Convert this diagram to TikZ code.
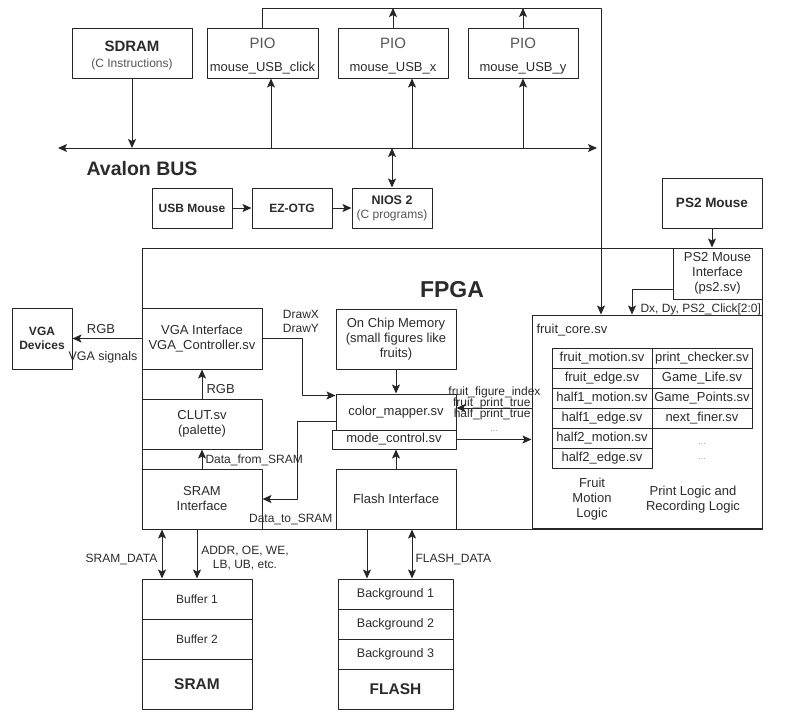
\documentclass[tikz,border=0pt]{standalone}
\usepackage{fontspec}
\setmainfont{Liberation Sans}
\usetikzlibrary{arrows.meta}
\definecolor{txt}{HTML}{2B2B2B}
\definecolor{soft}{HTML}{555555}
\definecolor{dots}{HTML}{9A9A9A}
\begin{document}
\begin{tikzpicture}[x=1pt, y=-1pt, line join=round, line cap=round, line width=1pt, color=black!85,
    >={Stealth[length=9pt,width=8pt,inset=2pt]},
    every node/.style={text=txt, inner sep=1pt, font=\fontsize{13}{15}\selectfont},
    box/.style 2 args={draw, align=center, minimum width=#1pt, minimum height=#2pt},
    lbl/.style={align=center, font=\fontsize{12}{14}\selectfont},
    hd/.style={font=\bfseries\fontsize{12}{14}\selectfont},
    more/.style={text=dots, font=\fontsize{9}{10}\selectfont}]
\useasboundingbox (0,0) rectangle (790,716);

\node[box={620}{281}] (fpga) at (452,388.5) {};
\node[font=\bfseries\fontsize{23}{26}\selectfont] (fpgatitle) at (452,290) {FPGA};

\node[box={120}{50}] (sdram) at (132,53) {};
\node[align=center] (sdramtxt) at (132,55) {{\bfseries\fontsize{15}{17}\selectfont SDRAM}\\[1pt]{\fontsize{12}{14}\selectfont\color{soft}(C Instructions)}};
\node[box={111}{50}] (pioclk) at (262.5,53) {};
\node[box={110}{50}] (piox) at (393,53) {};
\node[box={110}{50}] (pioy) at (523,53) {};
\foreach \pio/\sig in {pioclk/click, piox/x, pioy/y}
  \node[align=center] (\pio txt) at ([yshift=-3pt]\pio.center) {{\fontsize{15}{17}\selectfont\color{soft}PIO}\\[8pt]mouse\_USB\_\sig};

\coordinate (busL) at (58,148);
\coordinate (busR) at (597,148);
\coordinate (rail) at (601,8);
\node[font=\bfseries\fontsize{19.5}{22}\selectfont] (avalon) at (142,169) {Avalon BUS};

\node[box={80}{40}, hd] (usb) at (192,208) {USB Mouse};
\node[box={80}{40}, hd] (ezotg) at (292,208) {EZ-OTG};
\node[box={80}{40}] (nios) at (392,208) {{\bfseries\fontsize{12.5}{14}\selectfont NIOS 2}\\[-1pt]{\fontsize{12}{14}\selectfont\color{soft}(C programs)}};
\node[box={100}{50}, font=\bfseries\fontsize{13.5}{15}\selectfont] (ps2) at (712,203) {PS2 Mouse};

\node[box={89}{51}] (ps2if) at (717.5,273.5) {PS2 Mouse\\Interface\\(ps2.sv)};
\node[box={230}{213}] (core) at (647,421.5) {};
\node[anchor=west] (corelbl) at (535,330) {fruit\_core.sv};
\foreach \name [count=\i] in {fruit\_motion.sv, fruit\_edge.sv, half1\_motion.sv, half1\_edge.sv, half2\_motion.sv, half2\_edge.sv}
  \node[box={100}{20}] (fm\i) at (602,338+20*\i) {\name};
\foreach \name [count=\i] in {print\_checker.sv, Game\_Life.sv, Game\_Points.sv, next\_finer.sv}
  \node[box={100}{20}] (pl\i) at (702,338+20*\i) {\name};
\node[more] (pldots1) at (702,444) {...};
\node[more] (pldots2) at (702,459) {...};
\node[align=center] (fmlbl) at (592,499) {Fruit\\Motion\\Logic};
\node[align=center] (pllbl) at (693,499.5) {Print Logic and\\Recording Logic};

\node[box={60}{61}, font=\bfseries\fontsize{12}{14}\selectfont] (vgadev) at (42,338.5) {VGA\\Devices};
\node[box={120}{61}] (vgaif) at (202,338.5) {VGA Interface\\VGA\_Controller.sv};
\node[box={120}{50}] (clut) at (202,424) {CLUT.sv\\(palette)};
\node[box={120}{60}] (sramif) at (202,499) {SRAM\\Interface};
\node[box={120}{60}] (onchip) at (396,339) {On Chip Memory\\(small figures like\\fruits)};
\node[box={120}{36}] (cmap) at (396,412) {color\_mapper.sv};
\node[box={124}{19}] (mode) at (394,439.5) {mode\_control.sv};
\node[box={120}{60}] (flashif) at (396,499) {Flash Interface};

\node[box={110}{40}, lbl] (buf1) at (197,599) {Buffer 1};
\node[box={110}{40}, lbl] (buf2) at (197,639) {Buffer 2};
\node[box={110}{50}, font=\bfseries\fontsize{15.5}{17}\selectfont] (sram) at (197,684) {SRAM};
\node[box={115}{30}, font=\fontsize{12.5}{14}\selectfont] (bg1) at (395.5,594) {Background 1};
\node[box={115}{30}, font=\fontsize{12.5}{14}\selectfont] (bg2) at (395.5,624) {Background 2};
\node[box={115}{30}, font=\fontsize{12.5}{14}\selectfont] (bg3) at (395.5,654) {Background 3};
\node[box={115}{40}, font=\bfseries\fontsize{15.5}{17}\selectfont] (flash) at (395.5,689) {FLASH};

\coordinate (clkin) at ([xshift=8.5pt]pioclk.south);
\coordinate (xin) at ([xshift=19pt]piox.south);
\coordinate (ps2out) at ([yshift=-15.5pt]ps2if.west);
\coordinate (ps2in) at ([xshift=-15pt]core.north);
\coordinate (cmapin) at ([yshift=-2pt]cmap.north west);
\coordinate (cmapout) at ([yshift=-9pt]cmap.west);
\coordinate (figin) at ([yshift=4pt]cmap.east);
\coordinate (sdq) at ([xshift=-40pt]sramif.south);
\coordinate (sctl) at ([xshift=-5pt]sramif.south);
\coordinate (fctl) at ([xshift=-29pt]flashif.south);
\coordinate (fdq) at ([xshift=16pt]flashif.south);

\draw[->] (pioclk.north) |- (rail) -- (rail |- core.north);
\draw[->] (piox.north) -- (piox.north |- rail);
\draw[->] (pioy.north) -- (pioy.north |- rail);
\draw[<->] (busL) -- (busR);
\draw[->] (sdram.south) -- (sdram.south |- busL);
\draw[->] (clkin |- busL) -- (clkin);
\draw[->] (xin |- busL) -- (xin);
\draw[->] (pioy.south |- busL) -- (pioy.south);
\draw[<->] (nios.north |- busL) -- (nios.north);
\draw[->] (usb) -- (ezotg);
\draw[->] (ezotg) -- (nios);

\draw[->] (ps2.south) -- (ps2.south |- ps2if.north);
\draw[->] (ps2out) -| (ps2in);
\node[lbl, anchor=south west] (dxdy) at (639,316) {Dx, Dy, PS2\_Click[2:0]};

\draw[->] (vgaif.west) -- (vgadev.east);
\node (rgbout) at (101,329) {RGB};
\node[font=\fontsize{12.5}{14}\selectfont] (vgasig) at (103,357) {VGA signals};
\draw[->] (clut.north) -- (vgaif.south);
\node[anchor=west] (rgbin) at (205,389) {RGB};
\draw[->] (sramif.north) -- (clut.south);
\node[lbl, anchor=west] (fromsram) at (204,460) {Data\_from\_SRAM};
\draw[->] (onchip.south) -- (cmap.north);
\draw[->] (vgaif.east) -- ++(40,0) |- (cmapin);
\node[lbl, align=left] (drawxy) at (301,321) {DrawX\\DrawY};
\draw[->] (cmapout) -- ++(-38,0) |- (sramif.east);
\node[lbl, anchor=east] (tosram) at (334,519) {Data\_to\_SRAM};
\draw[->] (flashif.north) -- (flashif.north |- mode.south);
\draw[->] (figin -| core.west) -- (figin);
\node[lbl, anchor=east] (figidx) at (542,392) {fruit\_figure\_index};
\node[lbl, anchor=east] (fprint) at (532,403) {fruit\_print\_true};
\node[lbl, anchor=east] (hprint) at (532,414) {half\_print\_true};
\draw[->] (mode.east) -- (mode.east -| core.west);
\node[more] (modedots) at (494,431) {...};

\draw[<->] (sdq) -- (sdq |- buf1.north);
\node[lbl] (sramdata) at (121.5,559) {SRAM\_DATA};
\draw[->] (sctl) -- (sctl |- buf1.north);
\node[lbl] (addr) at (245,558) {ADDR, OE, WE,\\LB, UB, etc.};
\draw[->] (fctl) -- (fctl |- bg1.north);
\draw[<->] (fdq) -- (fdq |- bg1.north);
\node[lbl, anchor=west] (flashdata) at (414,559) {FLASH\_DATA};
\end{tikzpicture}
\end{document}
